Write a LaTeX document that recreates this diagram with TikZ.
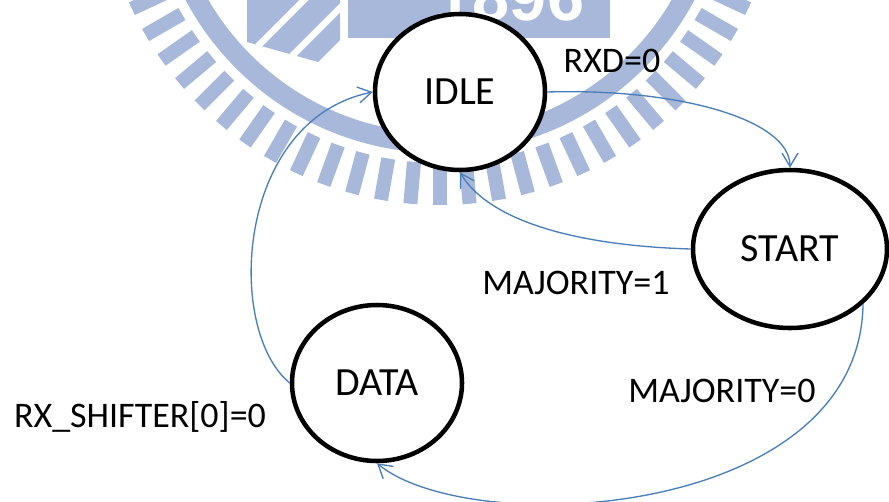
\documentclass[tikz,border=0pt]{standalone}
\usepackage{fontspec}
\setmainfont{Carlito}
\newfontfamily\digitfont{Liberation Sans}
\usetikzlibrary{shapes.geometric,arrows.meta}
\definecolor{wmblue}{RGB}{168,184,219}
\definecolor{linkblue}{RGB}{74,126,187}
\begin{document}
\begin{tikzpicture}[x=0.75pt,y=-0.75pt,
  state/.style={ellipse, draw=black, line width=3.4pt, fill=white, inner sep=0pt,
                font=\fontsize{30}{36}\selectfont},
  cond/.style={anchor=base, inner sep=0pt, font=\fontsize{27}{32}\selectfont},
  link/.style={draw=linkblue, line width=1pt, -{Straight Barb[length=10pt,width=12pt]}}]
\useasboundingbox (0,0) rectangle (889,501);
\clip (0,0) rectangle (889,501);
\fill[white] (0,0) rectangle (889,501);

% faded emblem in the background
\coordinate (C) at (440,-135);
\draw[wmblue, line width=15pt] (C) circle[radius=278];
\foreach \a in {0,5,...,180}
  \draw[wmblue, line width=10.5pt] ([shift={(\a:298)}]C) -- ([shift={(\a:340)}]C);
\fill[wmblue] (348,-10) rectangle (610,38);
\node[text=white, anchor=base, inner sep=0pt,
      font=\digitfont\bfseries\fontsize{50}{50}\selectfont] (year) at (510,20) {1896};
\fill[wmblue] (247,-5) -- (340,-5) -- (340,40) -- (318,62) -- (247,42) -- cycle;
\draw[white, line width=5pt] (258,46) -- (312,-8);
\draw[white, line width=5pt] (288,60) -- (346,2);

% states
\node[state, minimum width=127.5pt, minimum height=117pt]   (idle)  at (460,92)  {IDLE};
\node[state, minimum width=145.5pt, minimum height=118.5pt] (start) at (790,249) {START};
\node[state, minimum width=127.5pt, minimum height=117pt]   (data)  at (377,383) {DATA};

% transition conditions
\node[cond] (c1) at (612,72)  {RXD=0};
\node[cond] (c2) at (576,294) {MAJORITY=1};
\node[cond] (c3) at (722,402) {MAJORITY=0};
\node[cond] (c4) at (140,427) {RX\_SHIFTER[0]=0};

% transitions
\draw[link] (idle.east) .. controls (680,88) and (790,120) .. (start.north);
\draw[link] (start.west) .. controls (560,245) and (485,215) .. (idle.south);
\draw[link] (start.-37) .. controls (860,520) and (470,540) .. (data.south);
\draw[link] (data.west) .. controls (225,330) and (235,120) .. (idle.west);
\end{tikzpicture}
\end{document}
